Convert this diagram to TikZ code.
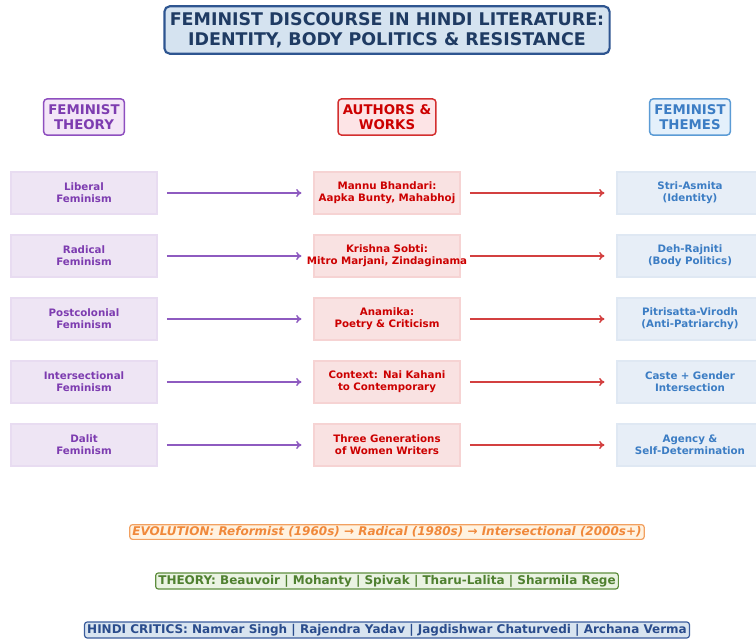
\documentclass[tikz,border=0pt]{standalone}
\usepackage{fontspec}
\setmainfont{DejaVu Sans}
\usepackage{tikz}
\usetikzlibrary{arrows.meta}

\definecolor{titlefill}{HTML}{D5E3F0}
\definecolor{titledraw}{HTML}{2E5590}
\definecolor{titletext}{HTML}{1F3B63}
\definecolor{purptext}{HTML}{7D3CB0}
\definecolor{purphead}{HTML}{F3E6F7}
\definecolor{purpdraw}{HTML}{8E4FBF}
\definecolor{purpfill}{HTML}{EEE5F4}
\definecolor{purpline}{HTML}{E8DCF1}
\definecolor{purparrow}{HTML}{8E5BC0}
\definecolor{redtext}{HTML}{CC0000}
\definecolor{redhead}{HTML}{FDE4E6}
\definecolor{reddraw}{HTML}{D32F2F}
\definecolor{redfill}{HTML}{F9E2E2}
\definecolor{redline}{HTML}{F6D3D3}
\definecolor{redarrow}{HTML}{D34040}
\definecolor{bluetext}{HTML}{3C7DC4}
\definecolor{bluehead}{HTML}{E4F0FB}
\definecolor{bluedraw}{HTML}{5B9BD5}
\definecolor{bluefill}{HTML}{E7EEF7}
\definecolor{blueline}{HTML}{DFE8F3}
\definecolor{orangetext}{HTML}{F0883A}
\definecolor{orangedraw}{HTML}{F2A060}
\definecolor{orangefill}{HTML}{FFF2E0}
\definecolor{greentext}{HTML}{4F8030}
\definecolor{greendraw}{HTML}{5E8E3E}
\definecolor{greenfill}{HTML}{EAF3E2}
\definecolor{critictext}{HTML}{2A4C8C}
\definecolor{criticdraw}{HTML}{3A5C9C}
\definecolor{criticfill}{HTML}{D8E4F0}

\begin{document}
\begin{tikzpicture}[x=0.75pt,y=-0.75pt,
	titlebox/.style={draw=titledraw,fill=titlefill,text=titletext,line width=1.6pt,
		rounded corners=4pt,align=center,font=\bfseries\fontsize{13.1}{15}\selectfont,
		inner xsep=4pt,inner ysep=4.5pt},
	headbox/.style={line width=1.1pt,rounded corners=2.5pt,align=center,
		font=\bfseries\fontsize{10}{11.5}\selectfont,inner xsep=3.5pt,inner ysep=4pt},
	rowbox/.style={line width=0.8pt,align=center,text width=109.5pt,minimum height=31.5pt,
		font=\bfseries\fontsize{7.7}{9}\selectfont,inner xsep=0pt,inner ysep=1pt},
	notebox/.style={line width=0.9pt,rounded corners=2pt,inner xsep=2pt,inner ysep=1.5pt,
		font=\bfseries\fontsize{9}{10}\selectfont},
	flow/.style={-{To[length=4pt,width=6pt]},line width=1.1pt}]
	\useasboundingbox (0,0) rectangle (756,641);

	% Title
	\node[titlebox] (title) at (387,30) {FEMINIST DISCOURSE IN HINDI LITERATURE:\\IDENTITY, BODY POLITICS \& RESISTANCE};

	% Column heads
	\node[headbox,draw=purpdraw,fill=purphead,text=purptext] (theoryhead) at (84,117) {FEMINIST\\THEORY};
	\node[headbox,draw=reddraw,fill=redhead,text=redtext] (workshead) at (387,117) {AUTHORS \&\\WORKS};
	\node[headbox,draw=bluedraw,fill=bluehead,text=bluetext] (themehead) at (690,117) {FEMINIST\\THEMES};

	% Theory column
	\node[rowbox,draw=purpline,fill=purpfill,text=purptext] (liberal) at (84,193) {Liberal\\Feminism};
	\node[rowbox,draw=purpline,fill=purpfill,text=purptext] (radical) at (84,256) {Radical\\Feminism};
	\node[rowbox,draw=purpline,fill=purpfill,text=purptext] (postcol) at (84,319) {Postcolonial\\Feminism};
	\node[rowbox,draw=purpline,fill=purpfill,text=purptext] (intersect) at (84,382) {Intersectional\\Feminism};
	\node[rowbox,draw=purpline,fill=purpfill,text=purptext] (dalit) at (84,445) {Dalit\\Feminism};

	% Works column
	\node[rowbox,draw=redline,fill=redfill,text=redtext] (bhandari) at (387,193) {Mannu Bhandari:\\Aapka Bunty, Mahabhoj};
	\node[rowbox,draw=redline,fill=redfill,text=redtext] (sobti) at (387,256) {Krishna Sobti:\\\makebox[0pt]{Mitro Marjani, Zindaginama}};
	\node[rowbox,draw=redline,fill=redfill,text=redtext] (anamika) at (387,319) {Anamika:\\Poetry \& Criticism};
	\node[rowbox,draw=redline,fill=redfill,text=redtext] (kahani) at (387,382) {Context: Nai Kahani\\to Contemporary};
	\node[rowbox,draw=redline,fill=redfill,text=redtext] (generations) at (387,445) {Three Generations\\of Women Writers};

	% Themes column
	\node[rowbox,draw=blueline,fill=bluefill,text=bluetext] (asmita) at (690,193) {Stri-Asmita\\(Identity)};
	\node[rowbox,draw=blueline,fill=bluefill,text=bluetext] (rajniti) at (690,256) {Deh-Rajniti\\(Body Politics)};
	\node[rowbox,draw=blueline,fill=bluefill,text=bluetext] (virodh) at (690,319) {Pitrisatta-Virodh\\(Anti-Patriarchy)};
	\node[rowbox,draw=blueline,fill=bluefill,text=bluetext] (caste) at (690,382) {Caste + Gender\\Intersection};
	\node[rowbox,draw=blueline,fill=bluefill,text=bluetext] (agency) at (690,445) {Agency \&\\Self-Determination};

	% Arrows
	\draw[flow,purparrow] ([xshift=7]liberal.east) -- ([xshift=-9]bhandari.west);
	\draw[flow,purparrow] ([xshift=7]radical.east) -- ([xshift=-9]sobti.west);
	\draw[flow,purparrow] ([xshift=7]postcol.east) -- ([xshift=-9]anamika.west);
	\draw[flow,purparrow] ([xshift=7]intersect.east) -- ([xshift=-9]kahani.west);
	\draw[flow,purparrow] ([xshift=7]dalit.east) -- ([xshift=-9]generations.west);
	\draw[flow,redarrow] ([xshift=7]bhandari.east) -- ([xshift=-9]asmita.west);
	\draw[flow,redarrow] ([xshift=7]sobti.east) -- ([xshift=-9]rajniti.west);
	\draw[flow,redarrow] ([xshift=7]anamika.east) -- ([xshift=-9]virodh.west);
	\draw[flow,redarrow] ([xshift=7]kahani.east) -- ([xshift=-9]caste.west);
	\draw[flow,redarrow] ([xshift=7]generations.east) -- ([xshift=-9]agency.west);

	% Notes
	\node[notebox,draw=orangedraw,fill=orangefill,text=orangetext,font=\bfseries\itshape\fontsize{9}{10}\selectfont] (evolution) at (387,532)
		{EVOLUTION: Reformist (1960s) → Radical (1980s) → Intersectional (2000s+)};
	\node[notebox,draw=greendraw,fill=greenfill,text=greentext] (theorists) at (387,581)
		{THEORY: Beauvoir | Mohanty | Spivak | Tharu-Lalita | Sharmila Rege};
	\node[notebox,draw=criticdraw,fill=criticfill,text=critictext] (critics) at (387,630)
		{HINDI CRITICS: Namvar Singh | Rajendra Yadav | Jagdishwar Chaturvedi | Archana Verma};
\end{tikzpicture}
\end{document}
